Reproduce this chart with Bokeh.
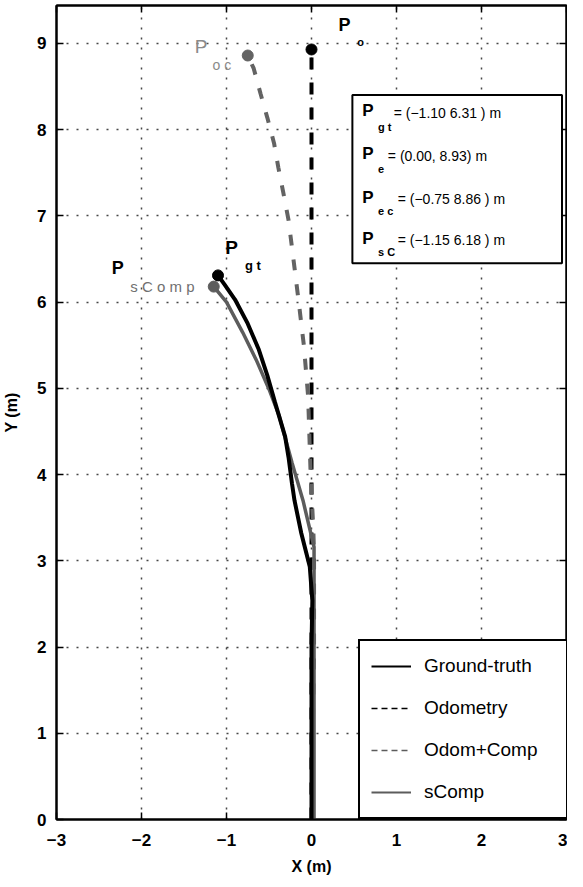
from bokeh.plotting import figure
from bokeh.models import (Range1d, FixedTicker, LinearAxis, Legend, LegendItem,
                          Label, BoxAnnotation)
from bokeh.embed import file_html
from bokeh.resources import INLINE

# ---------------- data ----------------
gt_x = [0.00, 0.00, 0.00, 0.01, -0.02, -0.12, -0.20, -0.23, -0.27, -0.31, -0.43, -0.52, -0.62, -0.75, -0.90, -1.02, -1.10]
gt_y = [0.00, 1.00, 2.00, 2.54, 2.93, 3.32, 3.70, 3.90, 4.20, 4.44, 4.84, 5.15, 5.45, 5.75, 6.03, 6.20, 6.31]

od_x = [0.00, 0.00]
od_y = [0.00, 8.93]

oc_x = [0.00, 0.03, 0.03, 0.02, -0.01, -0.04, -0.09, -0.15, -0.20, -0.27, -0.33, -0.39, -0.44, -0.52, -0.60, -0.68, -0.75]
oc_y = [0.00, 2.00, 3.10, 3.40, 4.00, 4.91, 5.50, 6.00, 6.40, 6.95, 7.26, 7.56, 7.84, 8.14, 8.42, 8.71, 8.86]

sc_x = [0.03, 0.03, 0.03, 0.03, -0.10, -0.23, -0.38, -0.50, -0.65, -0.81, -1.00, -1.15]
sc_y = [0.00, 1.00, 2.00, 3.16, 3.70, 4.14, 4.68, 4.99, 5.33, 5.65, 6.00, 6.18]

x_ticks = [-3, -2, -1, 0, 1, 2, 3]
x_tick_labels = ["\u22123", "\u22122", "\u22121", "0", "1", "2", "3"]
y_ticks = [0, 1, 2, 3, 4, 5, 6, 7, 8, 9]
y_tick_labels = ["0", "1", "2", "3", "4", "5", "6", "7", "8", "9"]

legend_labels = ["Ground-truth", "Odometry", "Odom+Comp", "sComp"]
box_subs = ["g t", "e", "e c", "s C"]
box_texts = ["= (\u22121.10 6.31 ) m", "= (0.00, 8.93) m",
             "= (\u22120.75 8.86 ) m", "= (\u22121.15 6.18 ) m"]
point_subs = ["o", "o c", "g t", "s C o m p"]

FONT = "Liberation Sans"
BLACK = "#000000"
GRAY = "#5c5c5c"
GRAY_D = "#636363"

# ---------------- figure ----------------
p = figure(width=567, height=879, x_range=Range1d(-3, 3), y_range=Range1d(0, 9.44),
           output_backend="svg", toolbar_location=None,
           min_border_left=54, min_border_right=1, min_border_top=5, min_border_bottom=60)
p.outline_line_color = "black"
p.outline_line_width = 2
p.outline_line_alpha = 1
p.background_fill_color = "white"
p.extra_y_ranges = {"legend": Range1d(1000, 1001)}

for ax, ticks, labels in ((p.xaxis[0], x_ticks, x_tick_labels), (p.yaxis[0], y_ticks, y_tick_labels)):
    ax.ticker = FixedTicker(ticks=ticks)
    ax.major_label_overrides = {t: l for t, l in zip(ticks, labels)}
    ax.major_tick_in = 7
    ax.major_tick_out = 0
    ax.major_tick_line_width = 1.5
    ax.major_tick_line_color = "black"
    ax.minor_tick_line_color = None
    ax.axis_line_width = 2
    ax.axis_line_color = "black"
    ax.major_label_text_font = FONT
    ax.major_label_text_font_style = "bold"
    ax.major_label_text_font_size = "17px"
    ax.major_label_text_color = "black"
    ax.axis_label_text_font = FONT
    ax.axis_label_text_font_style = "bold"
    ax.axis_label_text_font_size = "16px"
    ax.axis_label_text_color = "black"

p.xaxis[0].axis_label = "X (m)"
p.xaxis[0].major_label_standoff = 14
p.xaxis[0].axis_label_standoff = 9
p.yaxis[0].axis_label = "Y (m)"
p.yaxis[0].major_label_standoff = 10
p.yaxis[0].axis_label_standoff = 14

for ticks, side in ((y_ticks, "right"), (x_ticks, "above")):
    a = LinearAxis(ticker=FixedTicker(ticks=ticks),
                   major_label_overrides={t: "" for t in ticks},
                   major_label_text_font_size="1px",
                   major_tick_in=7, major_tick_out=0, major_tick_line_width=1.5,
                   major_tick_line_color="black",
                   minor_tick_line_color=None, axis_line_width=2, axis_line_color="black",
                   major_label_standoff=0)
    p.add_layout(a, side)

p.xgrid.ticker = FixedTicker(ticks=x_ticks)
p.ygrid.ticker = FixedTicker(ticks=y_ticks)
for g in (p.xgrid[0], p.ygrid[0]):
    g.grid_line_color = "#333333"
    g.grid_line_dash = "2 8"
    g.grid_line_width = 1.5
    g.grid_line_alpha = 0.9

# ---------------- trajectories ----------------
p.line(od_x, od_y, line_color=BLACK, line_width=4, line_dash="12 13")
p.line(oc_x, oc_y, line_color=GRAY_D, line_width=4, line_dash="11 14")
p.line(sc_x, sc_y, line_color=GRAY, line_width=3.5)
p.line(gt_x, gt_y, line_color=BLACK, line_width=4)

p.scatter([od_x[-1]], [od_y[-1]], size=11, color=BLACK)
p.scatter([oc_x[-1]], [oc_y[-1]], size=11, color=GRAY_D)
p.scatter([sc_x[-1]], [sc_y[-1]], size=11, color=GRAY)
p.scatter([gt_x[-1]], [gt_y[-1]], size=11, color=BLACK)

# ---------------- legend (thin sample lines, drawn on an off-screen range) ----------------
l1 = p.line(gt_x, gt_y, y_range_name="legend", line_color=BLACK, line_width=2)
l2 = p.line(od_x, od_y, y_range_name="legend", line_color=BLACK, line_width=1.5, line_dash="6 4")
l3 = p.line(oc_x, oc_y, y_range_name="legend", line_color=GRAY, line_width=1.5, line_dash="6 4")
l4 = p.line(sc_x, sc_y, y_range_name="legend", line_color=GRAY, line_width=2)
legend = Legend(items=[LegendItem(label=lab, renderers=[r])
                       for lab, r in zip(legend_labels, (l1, l2, l3, l4))],
                location=(302, 0), margin=0, padding=11, spacing=14,
                glyph_width=40, glyph_height=28, label_height=28, label_width=132,
                label_standoff=13, label_text_font=FONT, label_text_font_size="19px",
                label_text_color="black",
                border_line_color="black", border_line_width=2, border_line_alpha=1,
                background_fill_color="white", background_fill_alpha=1)
p.add_layout(legend)

# ---------------- info box ----------------
p.add_layout(BoxAnnotation(left=0.481, right=2.947, bottom=6.452, top=8.402,
                           fill_color="white", fill_alpha=1,
                           line_color="black", line_width=2, line_alpha=1, level="annotation"))

row_y = [8.112, 7.613, 7.102, 6.626]
sub_y = [7.961, 7.497, 6.986, 6.510]
txt_x = [0.967, 0.898, 1.014, 1.014]
txt_y = [8.100, 7.601, 7.102, 6.626]
for i in range(4):
    p.add_layout(Label(x=0.597, y=row_y[i], text="P", text_font=FONT, text_font_style="bold",
                       text_font_size="17px", text_color="black"))
    p.add_layout(Label(x=0.782, y=sub_y[i], text=box_subs[i], text_font=FONT, text_font_style="bold",
                       text_font_size="11px", text_color="black"))
    p.add_layout(Label(x=txt_x[i], y=txt_y[i], text=box_texts[i], text_font=FONT,
                       text_font_size="14px", text_color="black"))

# ---------------- end point labels ----------------
def lab(x, y, t, size, color, bold=True):
    p.add_layout(Label(x=x, y=y, text=t, text_font=FONT,
                       text_font_style="bold" if bold else "normal",
                       text_font_size=size, text_color=color))

lab(0.319, 9.098, "P", "18px", "black")
lab(0.539, 8.947, point_subs[0], "11px", "black")
lab(-1.373, 8.843, "P", "19px", "#8a8a8a", bold=False)
lab(-1.164, 8.657, point_subs[1], "14px", "#8a8a8a", bold=False)
lab(-1.014, 6.510, "P", "19px", "black")
lab(-0.782, 6.336, point_subs[2], "13px", "black")
lab(-2.351, 6.278, "P", "18px", "black")
lab(-2.131, 6.081, point_subs[3], "15px", "#707070", bold=False)

open("out.html", "w").write(file_html(p, INLINE))
